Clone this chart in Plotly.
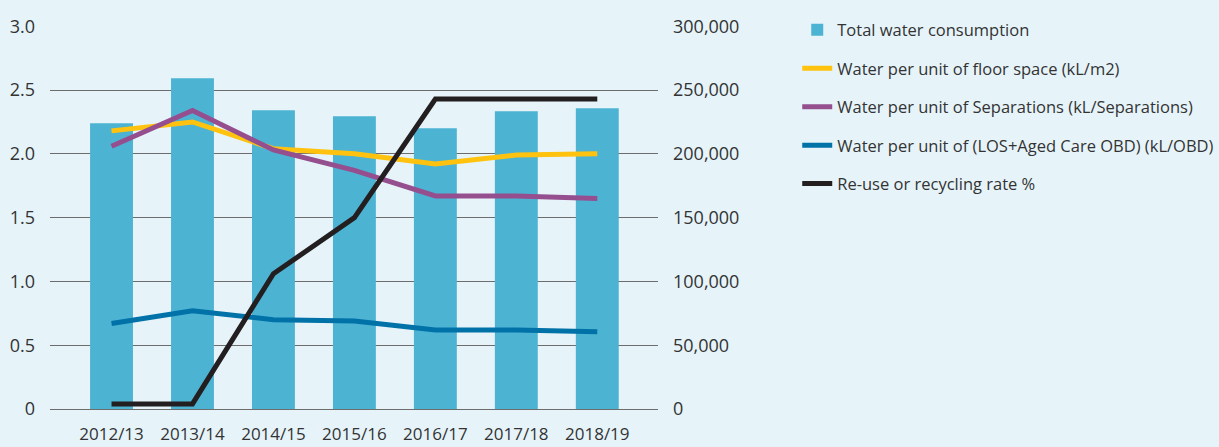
import plotly.graph_objects as go

years = ["2012/13", "2013/14", "2014/15", "2015/16", "2016/17", "2017/18", "2018/19"]
total_water = [224000, 259300, 234200, 229500, 220100, 233400, 235800]
per_floor = [2.18, 2.25, 2.04, 2.00, 1.92, 1.99, 2.00]
per_separation = [2.06, 2.34, 2.03, 1.87, 1.67, 1.67, 1.65]
per_obd = [0.67, 0.77, 0.70, 0.69, 0.62, 0.62, 0.605]
recycling = [0.04, 0.04, 1.06, 1.50, 2.43, 2.43, 2.43]

left_ticks = [0, 0.5, 1.0, 1.5, 2.0, 2.5, 3.0]
left_labels = ["0", "0.5", "1.0", "1.5", "2.0", "2.5", "3.0"]
right_ticks = [0, 50000, 100000, 150000, 200000, 250000, 300000]
right_labels = ["0", "50,000", "100,000", "150,000", "200,000", "250,000", "300,000"]

BG = "#e6f4fa"
FONT = "Open Sans"
TXT = "#333333"

fig = go.Figure()
fig.add_trace(go.Bar(x=years, y=total_water, name="Total water consumption",
                     marker=dict(color="#4db3d3", line=dict(width=0)),
                     width=0.53, yaxis="y", legendgroup="a"))
line_specs = [
    (per_floor, "Water per unit of floor space (kL/m2)", "#ffc20e", "b"),
    (per_separation, "Water per unit of Separations (kL/Separations)", "#954f8f", "c"),
    (per_obd, "Water per unit of (LOS+Aged Care OBD) (kL/OBD)", "#0072a8", "d"),
    (recycling, "Re-use or recycling rate %", "#231f20", "e"),
]
for vals, name, color, grp in line_specs:
    fig.add_trace(go.Scatter(x=years, y=vals, name=name, mode="lines",
                             line=dict(color=color, width=5), yaxis="y2",
                             legendgroup=grp))

fig.update_layout(
    width=1219, height=447,
    margin=dict(l=50, r=561, t=26, b=38, autoexpand=False),
    paper_bgcolor=BG, plot_bgcolor=BG,
    font=dict(family=FONT, size=17, color=TXT),
    showlegend=True,
    legend=dict(x=1.229, y=1.035, xanchor="left", yanchor="top",
                bgcolor="rgba(0,0,0,0)", font=dict(size=16.5, color=TXT),
                tracegroupgap=14, itemwidth=30),
    xaxis=dict(type="category", range=[-0.76, 6.75], showgrid=False,
               showline=True, linecolor="#6d6d6d", linewidth=1.2,
               ticks="", tickfont=dict(size=17), ticklabelstandoff=9,
               automargin=False),
    yaxis=dict(range=[0, 300200], tickvals=right_ticks, ticktext=right_labels,
               side="right", showgrid=True, gridcolor="#6d6d6d", gridwidth=1.2,
               zeroline=False, showline=False, ticks="",
               ticklabelstandoff=14, tickfont=dict(size=18), automargin=False),
    yaxis2=dict(range=[0, 3.002], tickvals=left_ticks, ticktext=left_labels,
                overlaying="y", side="left", showgrid=False, zeroline=False,
                showline=False, ticks="", ticklabelstandoff=14,
                tickfont=dict(size=18), automargin=False),
    bargap=0.47,
)

fig.write_html("out.html", config={"displayModeBar": False},
               post_script="document.body.style.margin='0';")
